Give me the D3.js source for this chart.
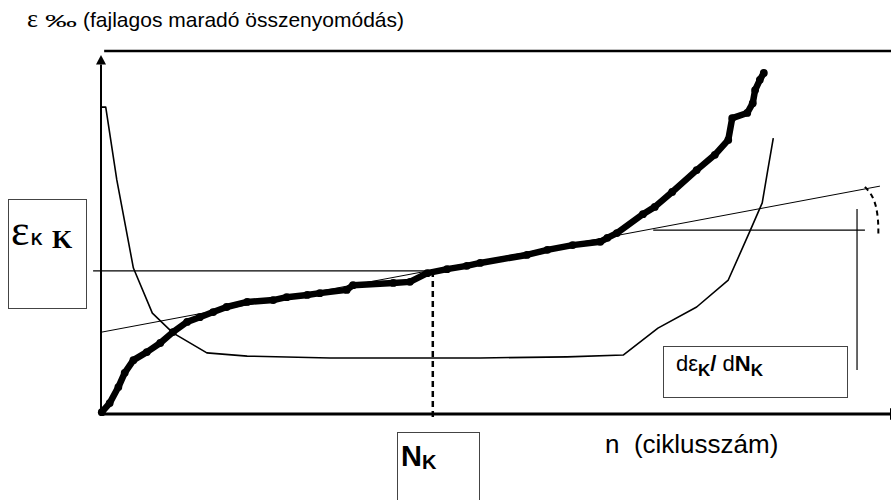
<!DOCTYPE html>
<html>
<head>
<meta charset="utf-8">
<script src="https://cdn.jsdelivr.net/npm/d3@7"></script>
<style>
  html, body { margin: 0; padding: 0; background: #fff; }
  svg { display: block; }
  text { font-family: Arial, "Liberation Sans", sans-serif; fill: #000; white-space: pre; }
</style>
</head>
<body>
<svg id="chart" width="891" height="500"></svg>
<script>
// cycle number (n, relative units) vs. residual compression strain (e, relative units)
const strainCurve = [
  { n: 0.1, e: 0.5 }, { n: 1.1, e: 3.0 }, { n: 2.2, e: 7.4 }, { n: 3.0, e: 11.3 },
  { n: 4.1, e: 14.8 }, { n: 5.8, e: 17.0 }, { n: 7.5, e: 19.5 }, { n: 9.1, e: 22.5 },
  { n: 10.9, e: 25.3 }, { n: 12.5, e: 26.6 }, { n: 14.2, e: 28.0 }, { n: 15.9, e: 29.4 },
  { n: 18.5, e: 30.8 }, { n: 21.8, e: 31.3 }, { n: 23.5, e: 32.1 }, { n: 26.1, e: 32.7 },
  { n: 27.7, e: 33.2 }, { n: 31.1, e: 34.1 }, { n: 31.9, e: 35.4 }, { n: 37.0, e: 36.0 },
  { n: 39.1, e: 36.3 }, { n: 41.3, e: 38.7 }, { n: 43.8, e: 39.8 }, { n: 46.3, e: 40.7 },
  { n: 48.0, e: 41.5 }, { n: 53.9, e: 43.7 }, { n: 56.5, e: 45.1 }, { n: 59.7, e: 46.4 },
  { n: 63.2, e: 47.3 }, { n: 64.1, e: 48.4 }, { n: 65.3, e: 49.7 }, { n: 68.6, e: 54.9 },
  { n: 70.1, e: 56.9 }, { n: 72.3, e: 61.0 }, { n: 75.4, e: 67.0 }, { n: 77.7, e: 71.2 },
  { n: 79.4, e: 75.3 }, { n: 79.9, e: 81.3 }, { n: 81.8, e: 82.7 }, { n: 82.5, e: 85.4 },
  { n: 82.8, e: 89.0 }, { n: 83.4, e: 91.8 }, { n: 83.9, e: 93.7 },
];

// strain rate de/dN
const rateCurve = [
  { n: 0.1, e: 84.3 }, { n: 0.6, e: 84.3 }, { n: 2.0, e: 64.3 }, { n: 4.1, e: 40.1 },
  { n: 6.5, e: 27.7 }, { n: 9.1, e: 22.3 }, { n: 13.4, e: 16.8 }, { n: 18.5, e: 15.9 },
  { n: 29.0, e: 15.4 }, { n: 48.0, e: 15.4 }, { n: 59.0, e: 15.7 }, { n: 66.1, e: 16.2 },
  { n: 70.5, e: 23.6 }, { n: 75.4, e: 29.4 }, { n: 79.4, e: 36.8 }, { n: 82.2, e: 50.5 },
  { n: 83.7, e: 58.0 }, { n: 84.4, e: 67.0 }, { n: 85.1, e: 75.8 },
];

// tangent through the N_K point
const tangentLine = [{ n: 0.1, e: 22.5 }, { n: 98.6, e: 62.6 }];
// eps_K level and N_K
const epsK = 39.3;
const nK = 42.0;
const epsKLine = [{ n: -1.0, e: epsK }, { n: nK, e: epsK }];
const nKLine = [{ n: nK, e: epsK }, { n: nK, e: -1.6 }];
// slope construction on the right
const slopeBase = [{ n: 69.9, e: 50.5 }, { n: 96.7, e: 50.5 }];
const slopeRise = [{ n: 95.7, e: 56.3 }, { n: 95.7, e: 12.1 }];
const slopeArc = [
  { n: 96.7, e: 62.4 }, { n: 97.6, e: 60.2 }, { n: 98.1, e: 57.4 },
  { n: 98.4, e: 53.3 }, { n: 98.4, e: 49.2 },
];

const svg = d3.select("#chart");

const x = d3.scaleLinear().domain([0, 100]).range([101, 891]);
const y = d3.scaleLinear().domain([0, 100]).range([414, 50]);

const line = d3.line().x((d) => x(d.n)).y((d) => y(d.e));

// frame / axes
svg.append("line")
  .attr("x1", x(0.4)).attr("x2", x(100))
  .attr("y1", y(99.7)).attr("y2", y(99.7))
  .attr("stroke", "#000").attr("stroke-width", 2.5);

svg.append("line")
  .attr("x1", x(0)).attr("x2", x(0))
  .attr("y1", y(-0.5)).attr("y2", y(96))
  .attr("stroke", "#000").attr("stroke-width", 2);
svg.append("path")
  .attr("d", `M${x(0)},${y(98.6)} L${x(0) - 5},${y(96)} L${x(0) + 5},${y(96)} Z`)
  .attr("fill", "#000");

svg.append("line")
  .attr("x1", x(0) - 1).attr("x2", x(100))
  .attr("y1", y(0)).attr("y2", y(0))
  .attr("stroke", "#000").attr("stroke-width", 3);
svg.append("path")
  .attr("d", `M${x(100) - 1},${y(0) - 6} L${x(100) + 10},${y(0)} L${x(100) - 1},${y(0) + 6} Z`)
  .attr("fill", "#000");

// construction lines
const thin = svg.append("g").attr("fill", "none").attr("stroke", "#000");
thin.append("path").attr("d", line(tangentLine)).attr("stroke-width", 1);
thin.append("path").attr("d", line(epsKLine)).attr("stroke-width", 1.3);
thin.append("path").attr("d", line(slopeBase)).attr("stroke-width", 1.2);
thin.append("path").attr("d", line(slopeRise)).attr("stroke-width", 1.2);
thin.append("path")
  .attr("d", d3.line().x((d) => x(d.n)).y((d) => y(d.e)).curve(d3.curveBasis)(slopeArc))
  .attr("stroke-width", 2).attr("stroke-dasharray", "5,4");
thin.append("path").attr("d", line(nKLine))
  .attr("stroke-width", 2.5).attr("stroke-dasharray", "6,4");

// rate curve
svg.append("path")
  .attr("d", line(rateCurve))
  .attr("fill", "none").attr("stroke", "#000").attr("stroke-width", 1.6)
  .attr("stroke-linejoin", "round");

// strain curve (thick)
svg.append("path")
  .attr("d", line(strainCurve))
  .attr("fill", "none").attr("stroke", "#000").attr("stroke-width", 6.5)
  .attr("stroke-linejoin", "round").attr("stroke-linecap", "round");
svg.append("g").selectAll("circle")
  .data(strainCurve).enter().append("circle")
  .attr("cx", (d) => x(d.n)).attr("cy", (d) => y(d.e))
  .attr("r", 3.9).attr("fill", "#000");

// y title
const yTitle = svg.append("text").attr("y", 27).attr("font-size", 21);
yTitle.append("tspan").attr("x", 27).attr("font-family", "'Liberation Serif', serif")
  .attr("font-size", 26).text("ε");
yTitle.append("tspan").attr("x", 45).attr("font-size", 16)
  .attr("textLength", 32).attr("lengthAdjust", "spacingAndGlyphs").text("‰");
yTitle.append("tspan").attr("x", 83).text("(fajlagos maradó összenyomódás)");

// x title
svg.append("text").attr("x", 605).attr("y", 453).attr("font-size", 26)
  .text("n  (ciklusszám)");

// boxes
const boxes = svg.append("g").attr("fill", "#fff").attr("stroke", "#444").attr("stroke-width", 1);
boxes.append("rect").attr("x", 8.5).attr("y", 199.5).attr("width", 78).attr("height", 109);
boxes.append("rect").attr("x", 397.5).attr("y", 432.5).attr("width", 82).attr("height", 80);
boxes.append("rect").attr("x", 663.5).attr("y", 346.5).attr("width", 184).attr("height", 51);

// eps_K K label
const eLab = svg.append("text").attr("y", 245);
eLab.append("tspan").attr("x", 11).attr("font-family", "'Liberation Serif', serif")
  .attr("font-size", 44).text("ε");
eLab.append("tspan").attr("x", 31).attr("font-size", 16).attr("font-weight", "bold").text("K");
eLab.append("tspan").attr("x", 52).attr("y", 248).attr("font-family", "'Liberation Serif', serif")
  .attr("font-size", 26).attr("font-weight", "bold").text("K");

// N_K label
const nLab = svg.append("text").attr("y", 466).attr("font-weight", "bold");
nLab.append("tspan").attr("x", 401).attr("font-size", 29).text("N");
nLab.append("tspan").attr("x", 422).attr("y", 469).attr("font-size", 20).text("K");

// de_K / dN_K label
const dLab = svg.append("text").attr("y", 371).attr("font-size", 22);
dLab.append("tspan").attr("x", 676).text("dε");
dLab.append("tspan").attr("y", 376).attr("font-size", 17).attr("font-weight", "bold").text("K");
dLab.append("tspan").attr("y", 371).attr("font-weight", "bold").text("/");
dLab.append("tspan").text(" d");
dLab.append("tspan").attr("font-weight", "bold").text("N");
dLab.append("tspan").attr("y", 376).attr("font-size", 17).attr("font-weight", "bold").text("K");
</script>
</body>
</html>
